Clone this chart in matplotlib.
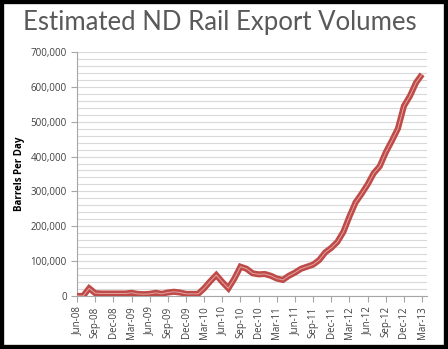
import matplotlib
matplotlib.use("Agg")
import matplotlib.pyplot as plt
from matplotlib.patches import Rectangle
from matplotlib.ticker import FuncFormatter, MultipleLocator

plt.rcParams['font.family'] = ['Open Sans', 'DejaVu Sans']

# Monthly estimates, Jun-08 .. Mar-13 (barrels per day)
months = [f"{m}-{y:02d}" for y in range(8, 14)
          for m in ["Jan", "Feb", "Mar", "Apr", "May", "Jun",
                    "Jul", "Aug", "Sep", "Oct", "Nov", "Dec"]][5:63]
volumes = [0, 0, 22000, 8000, 7000, 7000, 7000, 7000, 7000, 9000,
           6000, 5000, 6000, 9000, 6000, 10000, 12000, 10000, 6000, 6000,
           6000, 22000, 42000, 60000, 40000, 22000, 50000, 84000, 78000, 65000,
           62000, 63000, 58000, 50000, 46000, 58000, 67000, 78000, 84000, 90000,
           103000, 125000, 138000, 155000, 184000, 228000, 268000, 293000,
           320000, 352000, 372000, 412000, 445000, 480000, 545000, 574000,
           612000, 636000]
tick_every = 3

red = '#BE4B48'
grey_txt = '#404040'

fig = plt.figure(figsize=(4.48, 3.49), dpi=100)
fig.patch.set_facecolor('white')
ax = fig.add_axes([0.172, 0.152, 0.781, 0.699])

x = list(range(len(volumes)))
ax.plot(x, volumes, color=red, lw=4.4, solid_joinstyle='miter',
        solid_capstyle='butt', zorder=3)
ax.plot(x, volumes, color='#E3A3A1', lw=0.7, zorder=4)

ax.set_ylim(0, 700000)
ax.set_xlim(0, len(volumes) - 0.2)
ax.yaxis.set_major_locator(MultipleLocator(100000))
ax.yaxis.set_minor_locator(MultipleLocator(20000))
ax.yaxis.set_major_formatter(FuncFormatter(lambda v, p: f"{int(v):,}"))
ax.grid(axis='y', which='both', color='#D9D9D9', lw=0.8)
ax.set_axisbelow(True)

ax.set_xticks(x[::tick_every])
ax.set_xticklabels(months[::tick_every], rotation=90)
ax.tick_params(axis='both', labelsize=7, colors='#A6A6A6',
               labelcolor=grey_txt, length=4, width=0.8)
ax.tick_params(axis='y', which='minor', length=0)

for side in ['top', 'right']:
    ax.spines[side].set_visible(False)
for side in ['left', 'bottom']:
    ax.spines[side].set_color('#A6A6A6')
    ax.spines[side].set_linewidth(0.8)

ax.set_ylabel("Barrels Per Day", fontsize=7, fontweight='bold',
              color='black', labelpad=4)

fig.text(0.49, 0.935, "Estimated ND Rail Export Volumes", ha='center',
         va='center', fontsize=18.5, color='#595959', family='Lato')

# black frame round the picture
fig.patches.append(Rectangle((0, 0), 1, 1, transform=fig.transFigure,
                             fill=False, edgecolor='black', lw=6))

fig.savefig("out.png", dpi=100)
